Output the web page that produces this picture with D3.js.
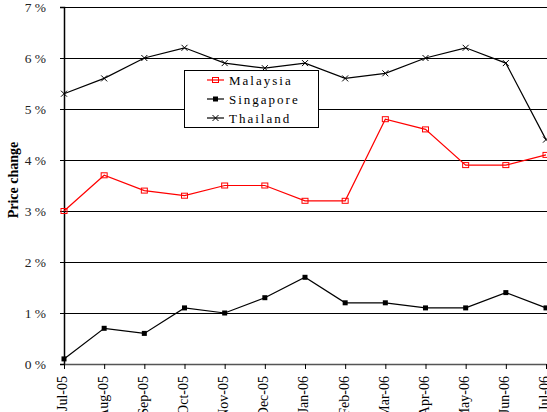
<!DOCTYPE html>
<html><head><meta charset="utf-8">
<script src="https://cdn.jsdelivr.net/npm/d3@7"></script>
<style>body{margin:0;background:#fff}svg{display:block}text{font-family:"Liberation Serif","Times New Roman",serif}</style>
</head><body><svg id="c" width="547" height="412"></svg>
<script>
const months = ["Jul-05","Aug-05","Sep-05","Oct-05","Nov-05","Dec-05","Jan-06","Feb-06","Mar-06","Apr-06","May-06","Jun-06","Jul-06"];
const malaysia = [3.0,3.7,3.4,3.3,3.5,3.5,3.2,3.2,4.8,4.6,3.9,3.9,4.1];
const singapore = [0.1,0.7,0.6,1.1,1.0,1.3,1.7,1.2,1.2,1.1,1.1,1.4,1.1];
const thailand = [5.3,5.6,6.0,6.2,5.9,5.8,5.9,5.6,5.7,6.0,6.2,5.9,4.4];
const yTicks = [0,1,2,3,4,5,6,7];

const svg = d3.select("#c");
const x = d3.scalePoint().domain(months).range([64,546]);
const y = d3.scaleLinear().domain([0,7]).range([364,7]);

// gridlines
svg.append("g").selectAll("line").data(yTicks.filter(d=>d>0)).join("line")
  .attr("x1",64).attr("x2",547).attr("y1",d=>y(d)).attr("y2",d=>y(d))
  .attr("stroke","#000").attr("stroke-width",1).attr("shape-rendering","crispEdges");

// y axis
const ya = svg.append("g").attr("transform","translate(64,0)")
  .call(d3.axisLeft(y).tickValues(yTicks).tickFormat(d=>d+" %").tickSize(4));
ya.select(".domain").attr("stroke","#000").attr("stroke-width",1.5);
ya.selectAll("text").attr("font-size",13.5).attr("fill","#222").attr("x",-18).attr("dy","0.35em");
ya.selectAll(".tick line").attr("stroke","#000");

// x axis
const xa = svg.append("g").attr("transform","translate(0,364)")
  .call(d3.axisBottom(x).tickSize(5).tickSizeOuter(0));
xa.select(".domain").attr("stroke","#555").attr("stroke-width",1.5);
xa.selectAll(".tick line").attr("stroke","#000");
xa.selectAll("text").attr("font-size",14).attr("fill","#000")
  .attr("transform","rotate(-90)").attr("text-anchor","end")
  .attr("x",-12).attr("y",-2).attr("dy","0.35em");

// y label
svg.append("text").attr("transform","translate(18,180) rotate(-90)")
  .attr("text-anchor","middle").attr("font-size",14).attr("font-weight","bold").text("Price change");

const line = d3.line().x((d,i)=>x(months[i])).y(d=>y(d));

function series(data,color){
  svg.append("path").datum(data).attr("d",line).attr("fill","none").attr("stroke",color).attr("stroke-width",1.2);
}
series(malaysia,"#ff0000");
series(singapore,"#000");
series(thailand,"#000");

// markers
function sqHollow(g,cx,cy){g.append("rect").attr("x",cx-3).attr("y",cy-2.5).attr("width",6).attr("height",5).attr("fill","none").attr("stroke","#ff0000").attr("stroke-width",1);}
function sqFill(g,cx,cy){g.append("rect").attr("x",cx-2.5).attr("y",cy-2.5).attr("width",5).attr("height",5).attr("fill","#000");}
function cross(g,cx,cy){g.append("path").attr("d",`M${cx-3},${cy-3}L${cx+3},${cy+3}M${cx-3},${cy+3}L${cx+3},${cy-3}`).attr("stroke","#000").attr("stroke-width",1);}
const mg = svg.append("g");
malaysia.forEach((v,i)=>sqHollow(mg,x(months[i]),y(v)));
singapore.forEach((v,i)=>sqFill(mg,x(months[i]),y(v)));
thailand.forEach((v,i)=>cross(mg,x(months[i]),y(v)));

// legend
const lg = svg.append("g");
lg.append("rect").attr("x",184.5).attr("y",70.5).attr("width",134).attr("height",57).attr("fill","#fff").attr("stroke","#000").attr("stroke-width",1);
const items = [["Malaysia","#ff0000",sqHollow],["Singapore","#000",sqFill],["Thailand","#000",cross]];
items.forEach((it,i)=>{
  const cy = 80 + i*19;
  lg.append("line").attr("x1",207).attr("x2",224).attr("y1",cy).attr("y2",cy).attr("stroke",it[1]).attr("stroke-width",1.2);
  it[2](lg,215.5,cy);
  lg.append("text").attr("x",229).attr("y",cy).attr("dy","0.35em").attr("font-size",13).attr("letter-spacing","2px").text(it[0]);
});
</script></body></html>
